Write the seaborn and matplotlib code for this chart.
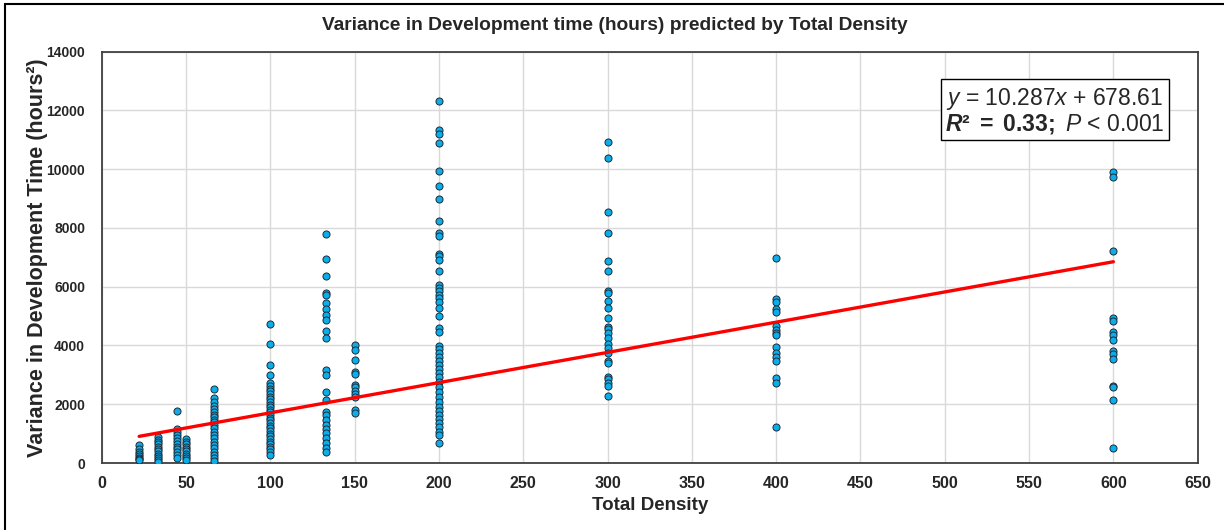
import numpy as np
import pandas as pd
import seaborn as sns
import matplotlib.pyplot as plt
from matplotlib.patches import Rectangle

# datos: densidad total y varianza (horas^2)
v_22 = [600, 470, 360, 300, 240, 180, 130, 90]
v_33 = [880, 800, 720, 640, 560, 480, 400, 320, 240, 170, 100, 50]
v_44 = [1770, 1160, 1060, 960, 860, 760, 660, 560, 460, 360, 260, 180]
v_50 = [820, 730, 640, 560, 480, 400, 320, 240, 160, 90]
v_67 = [2530, 2200, 2090, 1940, 1830, 1720, 1640, 1550, 1470, 1380, 1290, 1180,
        1070, 950, 840, 730, 610, 500, 390, 270, 160, 80]
v_100 = [4720, 4040, 3330, 2980, 2710, 2620, 2530, 2440, 2350, 2260, 2170, 2080,
         1990, 1900, 1810, 1720, 1630, 1540, 1450, 1360, 1270, 1180, 1090, 1000,
         910, 820, 730, 640, 550, 460, 370, 280]
v_133 = [7810, 6950, 6350, 5800, 5710, 5460, 5240, 5040, 4870, 4500, 4270, 3170,
         3000, 2430, 2150, 1750, 1640, 1470, 1290, 1150, 1010, 840, 690, 500, 360]
v_150 = [4000, 3850, 3510, 3110, 3020, 2660, 2570, 2460, 2350, 2260, 1810, 1690]
v_200 = [12330, 11340, 11200, 10890, 9940, 9420, 8970, 8240, 7820, 7710, 7120,
         7030, 6910, 6540, 6060, 5950, 5840, 5720, 5610, 5490, 5270, 5020, 4610,
         4470, 3990, 3870, 3740, 3620, 3480, 3340, 3190, 3060, 2920, 2770, 2600,
         2430, 2260, 2090, 1920, 1770, 1640, 1490, 1350, 1220, 1070, 950, 670]
v_300 = [10940, 10380, 8560, 7820, 6860, 6550, 5860, 5780, 5530, 5270, 4950, 4640,
         4550, 4420, 4250, 4040, 3910, 3760, 3470, 3400, 2940, 2850, 2740, 2620, 2280]
v_400 = [6970, 5580, 5490, 5250, 5150, 4670, 4530, 4420, 4360, 3940, 3760, 3620,
         3480, 2890, 2740, 1220]
v_600 = [9920, 9720, 7220, 4950, 4840, 4450, 4340, 4190, 3820, 3700, 3530, 2620,
         2570, 2150, 500]

densidades = [22.2, 33.3, 44.4, 50, 66.7, 100, 133.3, 150, 200, 300, 400, 600]
grupos = [v_22, v_33, v_44, v_50, v_67, v_100, v_133, v_150, v_200, v_300, v_400, v_600]

pendiente = 10.287
intercepto = 678.61

df = pd.DataFrame({
    "densidad": np.repeat(densidades, [len(g) for g in grupos]),
    "varianza": np.concatenate(grupos),
})

sns.set_style("white")
plt.rcParams["font.family"] = ["Liberation Sans", "DejaVu Sans"]
plt.rcParams["mathtext.fontset"] = "custom"
plt.rcParams["mathtext.rm"] = "Liberation Sans"
plt.rcParams["mathtext.it"] = "Liberation Sans:italic"
plt.rcParams["mathtext.bf"] = "Liberation Sans:bold"
plt.rcParams["mathtext.bfit"] = "Liberation Sans:italic:bold"

fig = plt.figure(figsize=(12.24, 5.30), dpi=100)
ax = fig.add_axes([0.0831, 0.1264, 0.8954, 0.7761])

ax.grid(True, color="#D9D9D9", linewidth=1)
ax.set_axisbelow(True)

sns.scatterplot(data=df, x="densidad", y="varianza", ax=ax, s=26,
                color="#0BAEE8", edgecolor="#1E2B3A", linewidth=0.7, zorder=3)

# recta de regresion
xs = np.array([min(densidades), max(densidades)])
ax.plot(xs, pendiente * xs + intercepto, color="#FF0000", linewidth=2.4, zorder=4)

ax.set_xlim(0, 650)
ax.set_ylim(0, 14000)
ax.set_xticks(np.arange(0, 651, 50))
ax.set_yticks(np.arange(0, 14001, 2000))

for s in ax.spines.values():
    s.set_color("#404040")
    s.set_linewidth(1.3)

ax.tick_params(axis="x", direction="in", length=5, color="#404040", pad=9,
               labelsize=11.5)
ax.tick_params(axis="y", length=0, pad=12, labelsize=10)
for lab in ax.get_xticklabels() + ax.get_yticklabels():
    lab.set_fontweight("bold")

ax.set_xlabel("Total Density", fontsize=13.5, fontweight="bold", labelpad=5)
ax.set_ylabel("Variance in Development Time (hours²)", fontsize=15.5,
              fontweight="bold", labelpad=-1)

fig.text(615 / 1224, 1 - 26 / 530,
         "Variance in Development time (hours) predicted by Total Density",
         ha="center", va="center", fontsize=13.8, fontweight="bold")

ax.text(1055 / 1224, 1 - 110.5 / 530,
        "$\\it{y}$ = 10.287$\\it{x}$ + 678.61\n"
        "$\\mathbfit{R}\\mathbf{²\\ =\\ 0.33;}$ $\\it{P}$ < 0.001",
        transform=fig.transFigure, ha="center", va="center", fontsize=16.5,
        linespacing=1.0, zorder=5,
        bbox=dict(boxstyle="square,pad=0.2", facecolor="white",
                  edgecolor="black", linewidth=1))

# marco exterior de la figura
fig.patches.append(Rectangle((5 / 1224, -0.05), 1.0, 1.05 - 4 / 530,
                             transform=fig.transFigure, fill=False,
                             edgecolor="black", linewidth=1.5))

plt.savefig("out.png", dpi=100)
plt.close()
